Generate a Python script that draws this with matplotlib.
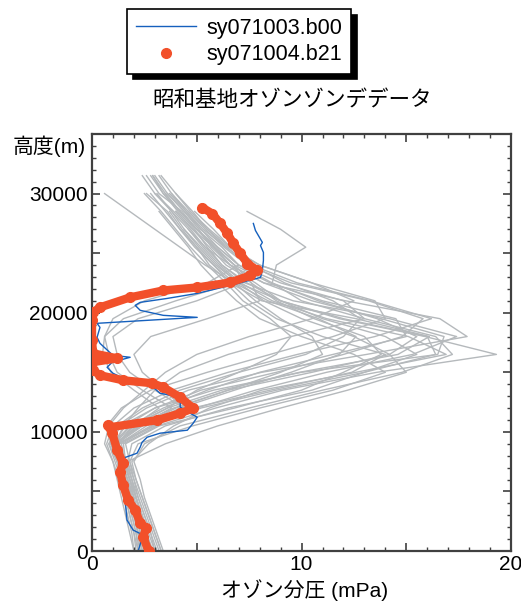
import numpy as np
import matplotlib
matplotlib.use('Agg')
import matplotlib.pyplot as plt
from matplotlib.ticker import MultipleLocator, FuncFormatter

plt.rcParams['font.family'] = ['Liberation Sans', 'Noto Sans CJK JP', 'DejaVu Sans']

# altitude grid (m) shared by the background profiles
levels = [0, 1500, 3000, 4500, 6000, 7500, 9000, 10500, 12000, 13500, 15000,
          16500, 18000, 19500, 21000, 22500, 24000, 25500, 27000, 28500, 30000, 31500]

# background profiles: ozone partial pressure (mPa) at each level, as far up as each sonde went
g01 = [3.0, 2.7, 2.4, 2.1, 1.9, 1.6, 1.3, 2.8, 5.0, 7.8, 11.2, 15.3, 17.4, 14.2, 9.6, 7.3, 6.2, 5.5, 4.9, 4.1, 3.4, 2.9]
g02 = [2.5, 2.3, 2.1, 1.9, 1.6, 1.2, 0.9, 1.9, 3.6, 6.2, 9.9, 14.6, 16.1, 12.6, 8.1, 6.6, 5.6, 5.0, 4.3, 3.7]
g03 = [3.3, 3.0, 2.7, 2.4, 2.1, 1.9, 2.7, 3.9, 5.6, 8.1, 12.6, 16.9, 15.1, 11.2, 8.6, 7.1, 6.1, 5.3, 4.6]
g04 = [2.2, 2.0, 1.8, 1.6, 1.4, 1.2, 0.8, 1.3, 2.6, 4.6, 8.1, 13.1, 17.9, 16.6, 12.1, 8.2, 6.6, 5.7, 5.1, 4.4, 3.6, 3.0]
g05 = [2.8, 2.5, 2.3, 2.1, 1.8, 1.6, 1.5, 3.1, 5.9, 9.1, 13.6, 19.3, 15.9, 11.8, 9.0, 7.0, 5.9, 5.1, 4.4, 3.8, 3.1]
g06 = [2.4, 2.2, 2.0, 1.7, 1.5, 1.3, 1.0, 1.6, 3.0, 5.2, 8.8, 12.0, 14.8, 15.8, 13.2, 9.5, 7.4, 6.3, 5.4, 4.6]
g07 = [2.6, 2.4, 2.1, 1.9, 1.6, 1.3, 1.1, 2.2, 3.8, 2.4, 1.2, 0.8, 0.6, 1.5, 4.0, 6.8, 7.5, 6.4, 5.3, 4.5, 3.8]
g08 = [2.9, 2.6, 2.4, 2.1, 1.8, 1.5, 1.2, 3.0, 4.4, 3.0, 1.8, 1.2, 1.0, 2.2, 5.0, 7.2, 6.8, 5.9, 5.0, 4.2, 3.5]
g09 = [3.1, 2.8, 2.5, 2.2, 2.0, 1.7, 3.5, 6.0, 9.0, 12.2, 15.0, 14.2, 12.5, 10.0, 8.2, 7.0, 6.0, 5.2, 4.4]
g10 = [2.0, 1.9, 1.7, 1.5, 1.3, 1.0, 0.7, 1.0, 2.0, 3.8, 6.5, 9.8, 13.5, 16.2, 13.3, 9.8, 7.6, 6.4, 5.5, 4.8, 4.0, 3.3]
g11 = [2.7, 2.5, 2.2, 2.0, 1.7, 1.4, 1.2, 2.4, 4.2, 6.8, 9.5, 11.8, 12.6, 10.8, 8.4, 6.8, 5.8, 4.9, 4.2, 3.5, 2.8]
g12 = [3.4, 3.1, 2.8, 2.5, 2.3, 2.0, 2.5, 4.2, 7.5, 11.0, 14.8, 17.2, 16.4, 13.0, 10.0, 8.6, 8.8, 10.2, 9.0, 7.4]
g13 = [2.3, 2.1, 1.9, 1.7, 1.5, 1.3, 1.1, 1.5, 2.2, 3.0, 4.2, 6.5, 9.5, 13.0, 12.0, 9.0, 7.0, 6.0, 5.0, 4.3, 3.2, 2.6]
g14 = [2.6, 2.4, 2.2, 1.9, 1.7, 1.4, 0.9, 0.7, 1.4, 2.8, 5.5, 8.5, 11.5, 14.0, 13.5, 10.5, 8.0, 6.5, 5.5, 4.6, 3.8, 3.2]
g15 = [3.0, 2.8, 2.5, 2.2, 1.9, 1.7, 1.9, 3.5, 6.5, 10.5, 13.0, 15.5, 14.0, 11.0, 9.0, 7.8, 6.4, 5.6, 4.8, 4.0]
g16 = [2.4, 2.2, 2.0, 1.8, 1.5, 1.2, 1.0, 2.0, 3.2, 2.0, 0.9, 0.5, 0.6, 1.0, 2.5, 5.5, 7.0, 6.2, 5.2, 4.4, 3.6]
g17 = [2.1, 2.0, 1.8, 1.6, 1.4, 1.1, 0.8, 1.4, 3.0, 5.8, 10.0, 16.5, 16.8, 13.8, 10.5, 8.2, 6.6, 5.4, 4.7, 3.9, 3.0]
g18 = [2.9, 2.6, 2.3, 2.1, 1.8, 1.5, 1.3, 2.6, 4.8, 8.5, 12.4, 14.0, 11.0, 8.8, 7.5, 6.6, 5.8, 5.0, 4.2, 3.6, 2.6]
g19 = [2.5, 2.3, 2.1, 1.9, 1.7, 1.4, 1.2, 2.0, 3.6, 5.0, 7.0, 8.8, 9.5, 8.5, 7.2, 6.4, 5.5, 4.7, 4.0, 3.3, 2.5]
g20 = [2.6, 2.4, 2.2, 2.0, 1.8, 1.5, 1.1, 2.3, 4.0, 6.5, 9.0, 11.0, 10.5, 9.0, 7.8, 6.8, 5.4, 4.2, 3.0, 1.8, 0.6]
g21 = [2.3, 2.2, 2.0, 1.8, 1.6, 1.3, 1.0, 1.8, 3.4, 5.5, 8.0, 11.5, 15.0, 14.5, 11.0, 8.5, 6.8, 5.8, 5.0, 4.2, 3.5, 2.9]
g22 = [3.2, 2.9, 2.6, 2.3, 2.0, 1.8, 2.2, 4.8, 8.0, 11.5, 14.0, 12.5, 10.0, 8.0, 6.9, 6.0, 5.2, 4.6, 3.9, 3.2]
g23 = [2.0, 1.8, 1.6, 1.4, 1.2, 1.0, 0.6, 0.8, 1.5, 2.5, 3.5, 5.0, 7.5, 10.5, 12.5, 10.5, 8.0, 6.6, 5.6, 4.7, 4.0]
g24 = [2.8, 2.6, 2.3, 2.1, 1.9, 1.6, 1.4, 2.9, 5.2, 8.8, 13.0, 16.4, 16.0, 12.0, 9.0, 7.4, 6.2, 5.4, 4.6, 3.8, 3.0, 2.4]
g25 = [2.4, 2.2, 2.0, 1.8, 1.6, 1.3, 1.0, 2.4, 4.4, 3.4, 2.4, 2.0, 2.8, 5.5, 8.0, 7.6, 6.8, 5.8, 4.8, 4.0]
g26 = [3.3, 3.0, 2.7, 2.4, 2.1, 1.8, 1.6, 3.2, 6.8, 10.0, 12.0, 13.8, 13.0, 10.6, 8.8, 7.6, 6.6, 5.8, 5.0, 4.2, 3.4, 2.8]
g27 = [2.6, 2.4, 2.2, 2.0, 1.7, 1.4, 1.2, 2.1, 3.9, 6.5, 10.5, 14.2, 15.5, 13.6, 10.8, 8.6, 7.0, 6.0, 5.2, 4.5, 3.7]
g28 = [2.2, 2.1, 1.9, 1.7, 1.5, 1.2, 0.9, 1.2, 2.4, 4.2, 7.0, 10.2, 12.0, 12.8, 11.5, 9.2, 7.6, 6.6, 5.8, 4.9]
background = [g01, g02, g03, g04, g05, g06, g07, g08, g09, g10, g11, g12, g13, g14,
              g15, g16, g17, g18, g19, g20, g21, g22, g23, g24, g25, g26, g27, g28]

# sy071003.b00
b00_o3 = [2.2, 2.44, 1.96, 1.67, 1.58, 1.48, 1.44, 1.34, 1.48, 2.15, 2.30, 2.39, 2.63, 3.25, 4.55,
          4.83, 5.02, 4.69, 4.21, 4.21, 3.25, 2.92, 1.48, 1.0, 0.72, 0.96, 1.82, 1.0, 0.38, 0.24,
          0.38, 0.24, 2.63, 5.02, 3.40, 2.30, 2.06, 2.30, 3.59, 5.02, 6.60, 8.04, 8.13, 8.18, 8.18,
          8.04, 8.13, 7.80, 7.70]
b00_alt = [0, 1340, 1760, 2600, 4270, 4860, 5950, 7040, 7790, 8210, 8720, 9130, 9550, 9890, 10140,
           10730, 11230, 11560, 12070, 12910, 13240, 13740, 14500, 14920, 15420, 15840, 16260, 16420,
           17430, 17930, 18770, 19110, 19360, 19610, 19780, 20200, 20620, 20870, 21200, 21620, 22290,
           22960, 23550, 24390, 25060, 25640, 25900, 26900, 27490]

# sy071004.b21
b21_o3 = [2.7, 2.44, 2.58, 2.3, 2.06, 1.72, 1.48, 1.34, 1.48, 1.2, 0.96, 0.77, 0.86, 3.11, 4.21,
          4.83, 4.21, 3.40, 2.87, 1.48, 0.38, 0.05, 0.0, 1.2, 0.05, 0.0, 0.0, 0.05, 0.38, 1.82,
          3.40, 5.02, 6.60, 7.56, 7.89, 7.42, 7.08, 6.75, 6.46, 6.12, 5.74, 5.26]
b21_alt = [0, 1180, 1930, 2350, 3450, 4290, 5550, 6640, 7390, 8490, 9920, 10590, 10390, 10980, 11560,
           11980, 12900, 13740, 14080, 14330, 14750, 15170, 15840, 16170, 16590, 17680, 19360, 20030,
           20450, 21290, 21870, 22120, 22540, 23130, 23550, 24130, 24970, 25810, 26650, 27490, 28320,
           28830]

fig = plt.figure(figsize=(5.21, 6.03), dpi=100)
ax = fig.add_axes([0.1766, 0.0862, 0.8044, 0.6916])

for prof in background:
    ax.plot(prof, levels[:len(prof)], color='#b5b9bc', lw=1.0, zorder=1)

ax.plot(b00_o3, b00_alt, color='#1560bd', lw=1.0, zorder=2, label='sy071003.b00')
ax.plot(b21_o3, b21_alt, color='#f2502a', lw=6, solid_capstyle='round', solid_joinstyle='round', zorder=3)
ax.plot(b21_o3, b21_alt, 'o', color='#f2502a', ms=7, lw=0, zorder=3, label='sy071004.b21')

ax.set_xlim(0, 20)
ax.set_ylim(0, 35000)
ax.xaxis.set_major_locator(MultipleLocator(5))
ax.xaxis.set_minor_locator(MultipleLocator(1))
ax.yaxis.set_major_locator(MultipleLocator(5000))
ax.yaxis.set_minor_locator(MultipleLocator(1000))
ax.xaxis.set_major_formatter(FuncFormatter(lambda v, p: '%d' % v if v % 10 == 0 else ''))
ax.yaxis.set_major_formatter(FuncFormatter(lambda v, p: '%d' % v if v % 10000 == 0 and v < 35000 else ''))
ax.tick_params(which='both', direction='in', top=True, right=True, color='#404040', labelsize=15)
ax.tick_params(which='major', length=6, width=1.2, pad=3)
ax.tick_params(which='minor', length=3, width=1.0)
for s in ax.spines.values():
    s.set_color('#404040')
    s.set_linewidth(1.6)

fig.text(0.56, 0.834, '昭和基地オゾンゾンデデータ', ha='center', va='center', fontsize=15.5)
fig.text(0.025, 0.758, '高度(m)', ha='left', va='center', fontsize=15)
fig.text(0.585, 0.022, 'オゾン分圧 (mPa)', ha='center', va='center', fontsize=15)

leg = fig.legend(loc='upper left', bbox_to_anchor=(0.244, 0.985), bbox_transform=fig.transFigure,
                 borderaxespad=0, fancybox=False, numpoints=1, fontsize=15.5,
                 handlelength=2.8, handletextpad=0.5, borderpad=0.4, labelspacing=0.25,
                 shadow={'ox': 4, 'oy': -4, 'color': 'black', 'alpha': 1})
leg.get_frame().set_edgecolor('black')
leg.get_frame().set_linewidth(1.2)

fig.savefig('out.png', dpi=100)
